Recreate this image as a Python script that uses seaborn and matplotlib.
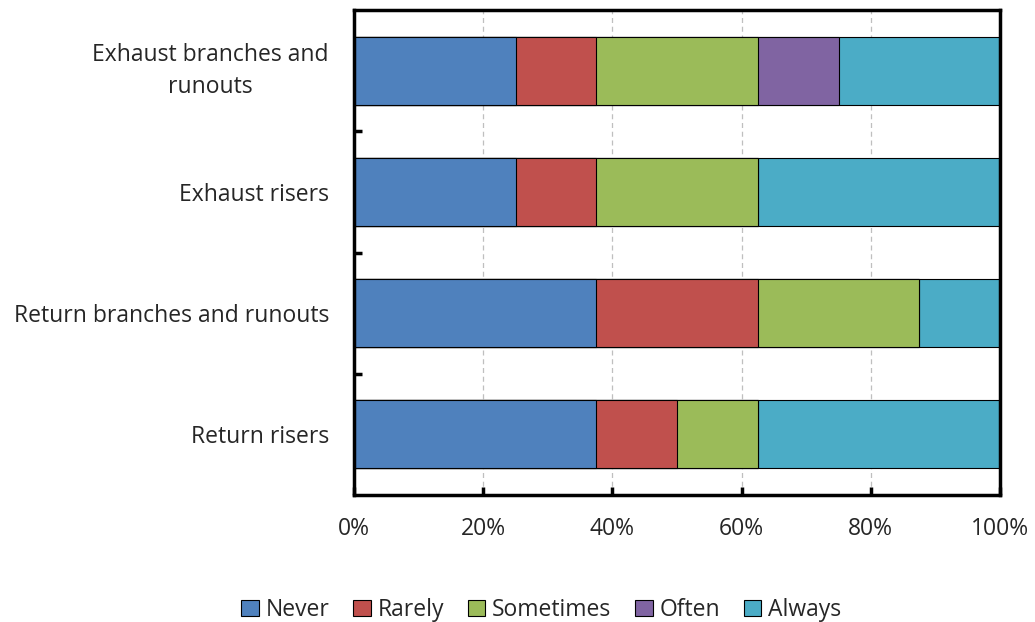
import matplotlib.pyplot as plt
import numpy as np
import pandas as pd
import seaborn as sns
from matplotlib.patches import Patch

categories = [
    "Exhaust branches and\nrunouts",
    "Exhaust risers",
    "Return branches and runouts",
    "Return risers",
]
responses = ["Never", "Rarely", "Sometimes", "Often", "Always"]
never = [25.0, 25.0, 37.5, 37.5]
rarely = [12.5, 12.5, 25.0, 12.5]
sometimes = [25.0, 25.0, 25.0, 12.5]
often = [12.5, 0.0, 0.0, 0.0]
always = [25.0, 37.5, 12.5, 37.5]
x_ticks = [0, 20, 40, 60, 80, 100]
x_tick_labels = ["0%", "20%", "40%", "60%", "80%", "100%"]

colors = {
    "Never": "#4F81BD",
    "Rarely": "#C0504D",
    "Sometimes": "#9BBB59",
    "Often": "#8064A2",
    "Always": "#4BACC6",
}
FS = 16.5


def main() -> None:
    sns.set_theme(style="white")
    plt.rcParams["font.family"] = ["Open Sans", "DejaVu Sans"]

    df = pd.DataFrame(
        {"category": categories, "Never": never, "Rarely": rarely,
         "Sometimes": sometimes, "Often": often, "Always": always}
    )
    cum = df[responses].cumsum(axis=1)

    fig = plt.figure(figsize=(10.35, 6.22), dpi=100)
    ax = fig.add_axes([354 / 1035, 1 - 495 / 622, 646 / 1035, 485 / 622])

    ax.set_axisbelow(True)
    for x in x_ticks[1:-1]:
        ax.axvline(x, color="#BFBFBF", linestyle=(0, (4, 3)), linewidth=0.9, zorder=0)

    # stacked: draw cumulative totals from the outermost layer inwards
    for resp in reversed(responses):
        sns.barplot(
            x=cum[resp], y=df["category"], orient="h", color=colors[resp],
            saturation=1, width=0.56, edgecolor="black", linewidth=0.8, ax=ax,
        )

    ax.set_xlim(0, 100)
    ax.set_ylim(3.5, -0.5)
    ax.set_xticks(x_ticks)
    ax.set_xticklabels(x_tick_labels, fontsize=FS, color="#262626")
    ax.set_yticks(range(len(categories)))
    ax.set_yticklabels(categories, fontsize=FS, color="#262626", ha="right",
                       multialignment="center", linespacing=1.45)
    for label in ax.get_yticklabels():
        if "\n" in label.get_text():
            label.set_verticalalignment("center")
    ax.set_xlabel("")
    ax.set_ylabel("")

    ax.tick_params(axis="y", which="major", length=0, pad=18)
    ax.set_yticks([0.5, 1.5, 2.5], minor=True)
    ax.tick_params(axis="y", which="minor", direction="in", length=6, width=2.5, left=True, color="black")
    ax.tick_params(axis="x", which="major", direction="in", length=6, width=2.5, bottom=True, pad=16, color="black")

    for spine in ax.spines.values():
        spine.set_visible(True)
        spine.set_color("black")
        spine.set_linewidth(2.5)

    handles = [Patch(facecolor=colors[r], edgecolor="black", linewidth=0.8, label=r) for r in responses]
    fig.legend(
        handles=handles, loc="center", bbox_to_anchor=(0.523, 1 - 610 / 622), ncol=5,
        frameon=False, fontsize=FS, handlelength=0.75, handleheight=0.75,
        handletextpad=0.3, columnspacing=1.05,
    )

    fig.savefig("out.png", dpi=100)
    plt.close(fig)


if __name__ == "__main__":
    main()
